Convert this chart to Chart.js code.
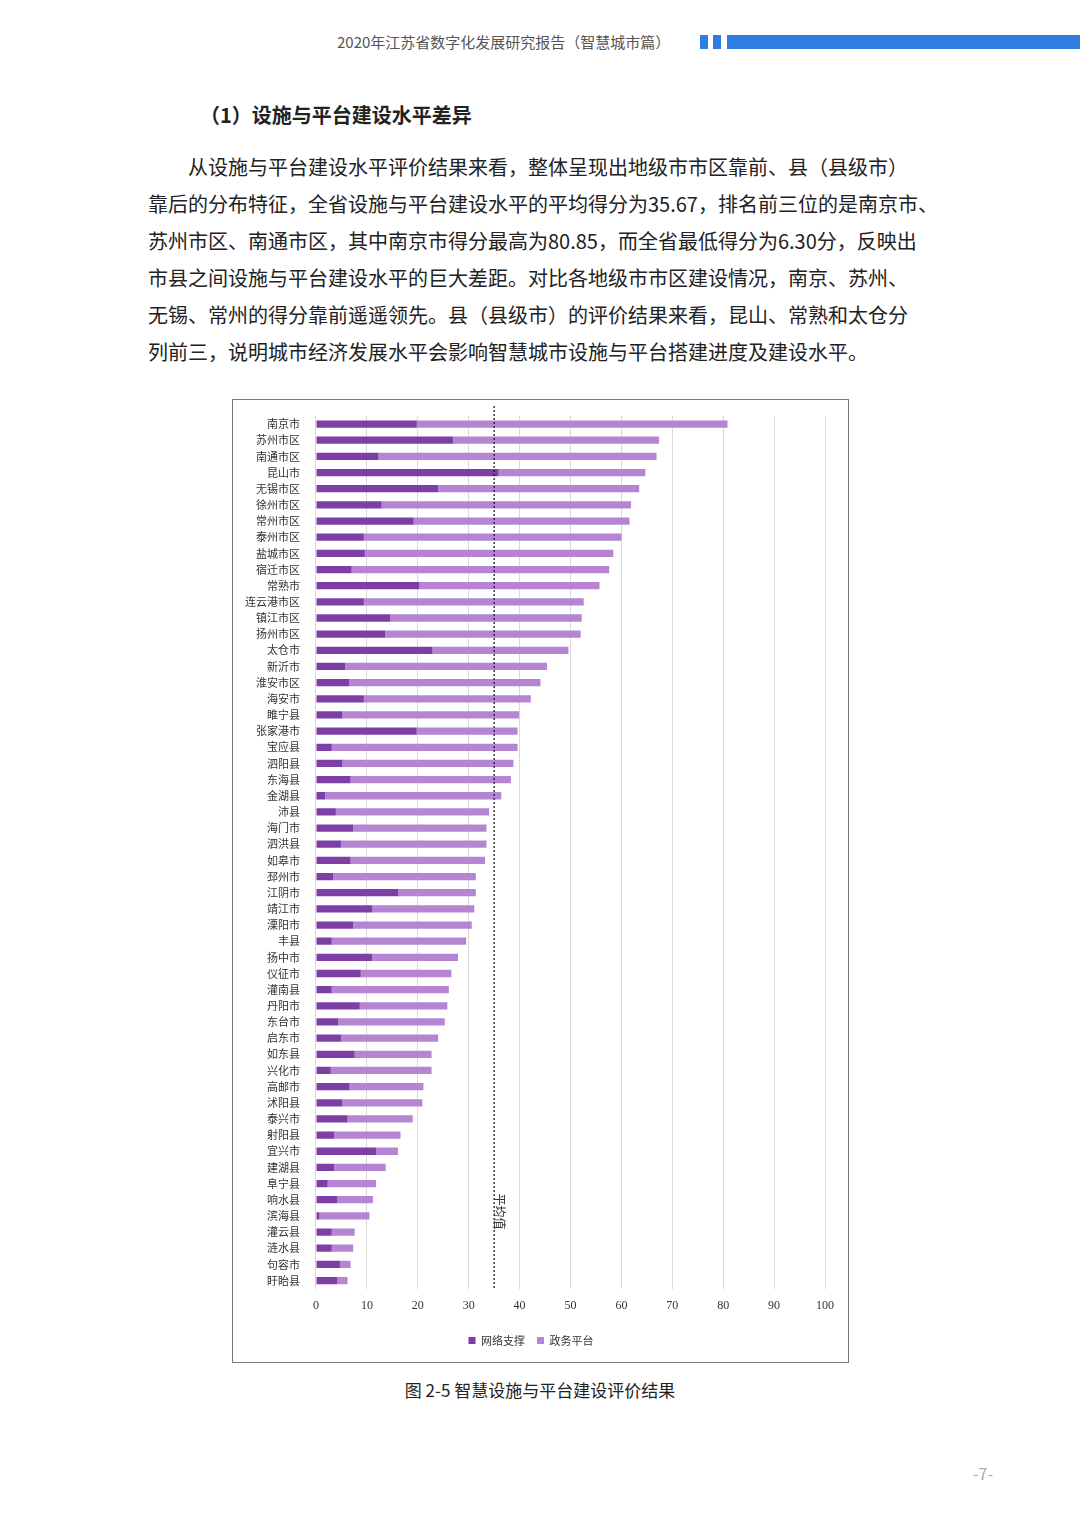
<!DOCTYPE html>
<html><head><meta charset="utf-8">
<script src="https://cdn.jsdelivr.net/npm/chart.js@4.4.0/dist/chart.umd.min.js"></script>
<style>
body{margin:0;width:1080px;height:1527px;background:#fff;position:relative;font-family:"Noto Sans CJK SC",sans-serif;color:#222}
.hdr{position:absolute;top:31px;left:337px;font-size:15px;color:#555}
.sq{position:absolute;top:35px;height:14px;background:#2f7de1}
h3{position:absolute;top:100px;left:200px;margin:0;font-size:20px;font-weight:bold}
.p{position:absolute;top:148px;left:148px;font-size:20px;line-height:37px;white-space:pre}
.box{position:absolute;left:232px;top:399px;width:615px;height:962px;border:1px solid #777}
.cap{position:absolute;top:1377px;width:1080px;text-align:center;font-size:17px}
.pg{position:absolute;top:1461px;left:973px;font-size:16px;color:#aaa}
</style></head><body>
<div class="hdr">2020年江苏省数字化发展研究报告（智慧城市篇）</div>
<div class="sq" style="left:700px;width:8px"></div>
<div class="sq" style="left:713px;width:8px"></div>
<div class="sq" style="left:727px;width:353px"></div>
<h3>（1）设施与平台建设水平差异</h3>
<div class="p">　　从设施与平台建设水平评价结果来看，整体呈现出地级市市区靠前、县（县级市）
靠后的分布特征，全省设施与平台建设水平的平均得分为35.67，排名前三位的是南京市、
苏州市区、南通市区，其中南京市得分最高为80.85，而全省最低得分为6.30分，反映出
市县之间设施与平台建设水平的巨大差距。对比各地级市市区建设情况，南京、苏州、
无锡、常州的得分靠前遥遥领先。县（县级市）的评价结果来看，昆山、常熟和太仓分
列前三，说明城市经济发展水平会影响智慧城市设施与平台搭建进度及建设水平。</div>
<div class="box"><canvas id="c" width="615" height="962"></canvas></div>
<div class="cap">图 2-5 智慧设施与平台建设评价结果</div>
<div class="pg">-7-</div>
<script>
const cities = ['南京市','苏州市区','南通市区','昆山市','无锡市区','徐州市区','常州市区','泰州市区','盐城市区','宿迁市区','常熟市','连云港市区','镇江市区','扬州市区','太仓市','新沂市','淮安市区','海安市','睢宁县','张家港市','宝应县','泗阳县','东海县','金湖县','沛县','海门市','泗洪县','如皋市','邳州市','江阴市','靖江市','溧阳市','丰县','扬中市','仪征市','灌南县','丹阳市','东台市','启东市','如东县','兴化市','高邮市','沭阳县','泰兴市','射阳县','宜兴市','建湖县','阜宁县','响水县','滨海县','灌云县','涟水县','句容市','盱眙县'];
const network = [19.8,26.9,12.3,35.9,24.0,12.9,19.2,9.4,9.6,7.0,20.3,9.4,14.6,13.6,22.9,5.7,6.5,9.4,5.2,19.8,3.1,5.2,6.8,1.8,3.9,7.3,4.9,6.8,3.4,16.2,11.0,7.3,3.1,11.0,8.8,3.1,8.6,4.4,4.9,7.6,2.9,6.6,5.2,6.2,3.6,11.8,3.6,2.3,4.2,0.7,3.1,3.1,4.7,4.2];
const total = [80.85,67.4,66.9,64.7,63.5,61.9,61.6,60.0,58.4,57.6,55.7,52.6,52.2,52.0,49.6,45.4,44.1,42.2,39.9,39.6,39.6,38.8,38.3,36.4,34.0,33.5,33.5,33.2,31.4,31.4,31.1,30.6,29.5,27.9,26.6,26.1,25.8,25.3,24.0,22.7,22.7,21.1,20.9,19.0,16.6,16.1,13.7,11.8,11.2,10.5,7.6,7.3,6.8,6.2];
const platform = total.map((t, i) => +(t - network[i]).toFixed(2));
const xTicks = [0,10,20,30,40,50,60,70,80,90,100];
const average = 35;

const avgLine = {
  id: 'avgLine',
  afterDatasetsDraw(chart) {
    const {ctx, chartArea, scales} = chart;
    const x = scales.x.getPixelForValue(average);
    ctx.save();
    ctx.strokeStyle = '#111';
    ctx.lineWidth = 1.2;
    ctx.setLineDash([2, 2]);
    ctx.beginPath();
    ctx.moveTo(x, chartArea.top - 10);
    ctx.lineTo(x, chartArea.bottom);
    ctx.stroke();
    ctx.setLineDash([]);
    ctx.translate(x + 9, chartArea.bottom - 95);
    ctx.rotate(Math.PI / 2);
    ctx.fillStyle = '#333';
    ctx.font = '12px "Noto Sans CJK SC"';
    ctx.fillText('平均值', 0, 4);
    ctx.restore();
  }
};

new Chart(document.getElementById('c'), {
  type: 'bar',
  data: {
    labels: cities,
    datasets: [
      {label: '网络支撑', data: network, backgroundColor: '#7d3fa6', barPercentage: 0.45, categoryPercentage: 1},
      {label: '政务平台', data: platform, backgroundColor: '#b585d3', barPercentage: 0.45, categoryPercentage: 1}
    ]
  },
  options: {
    indexAxis: 'y',
    responsive: false,
    animation: false,
    layout: {padding: {top: 16, right: 23, left: 4, bottom: 6}},
    scales: {
      x: {
        stacked: true, min: 0, max: 100,
        afterBuildTicks: a => { a.ticks = xTicks.map(v => ({value: v})); },
        grid: {color: '#d9d9d9', drawTicks: false},
        border: {display: false},
        ticks: {padding: 10, color: '#333', font: {family: 'Liberation Serif', size: 12}}
      },
      y: {
        stacked: true,
        grid: {display: false},
        border: {display: false},
        ticks: {autoSkip: false, padding: 8, color: '#333', font: {family: 'Noto Sans CJK SC', size: 11}}
      }
    },
    plugins: {
      tooltip: {enabled: false},
      legend: {
        position: 'bottom',
        labels: {boxWidth: 7, boxHeight: 7, padding: 12, color: '#333', font: {family: 'Noto Sans CJK SC', size: 11}}
      }
    }
  },
  plugins: [avgLine]
});
</script>
</body></html>
